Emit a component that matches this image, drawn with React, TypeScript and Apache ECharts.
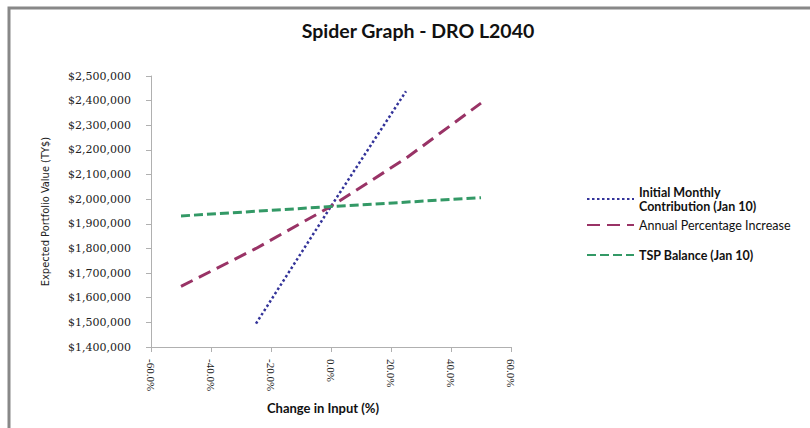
import React, { useEffect, useRef } from "react";
import * as echarts from "echarts";

const titleText = "Spider Graph - DRO L2040";
const xTickMin = -60;
const xTickMax = 60;
const xTickStep = 20;
const yMin = 1400000;
const yMax = 2500000;
const yStep = 100000;

const seriesNames = [
  "Initial Monthly\nContribution (Jan 10)",
  "Annual Percentage Increase",
  "TSP Balance (Jan 10)",
];

// Initial Monthly Contribution
const contribX = [-25, 0, 25];
const contribY = [1495000, 1971000, 2438000];

// Annual Percentage Increase
const annualX = [-50, -25, 0, 25, 50];
const annualY = [1646000, 1800000, 1971000, 2166000, 2390000];

// TSP Balance
const tspX = [-50, 0, 50];
const tspY = [1932000, 1970000, 2006000];

const colors = ["#333399", "#993366", "#339966"];

const pairs = (xs: number[], ys: number[]) => xs.map((x, i) => [x, ys[i]]);

export default function App() {
  const ref = useRef<HTMLDivElement>(null);
  useEffect(() => {
    document.body.style.margin = "0";
    const chart = echarts.init(ref.current!, null, { renderer: "svg" });
    const legendText = {
      fontFamily: "Lato",
      fontSize: 12.5,
      color: "#111",
      fontWeight: "bold" as const,
      lineHeight: 14,
    };
    const legendBase = {
      orient: "vertical" as const,
      left: 581,
      itemWidth: 47,
      itemHeight: 14,
      itemStyle: { opacity: 0 },
    };
    chart.setOption({
      animation: false,
      backgroundColor: "#ffffff",
      title: {
        text: titleText,
        left: 413,
        top: 15,
        textAlign: "center",
        textStyle: {
          fontFamily: "Lato",
          fontSize: 19.5,
          fontWeight: "bold",
          color: "#111",
        },
      },
      graphic: [
        {
          type: "rect",
          shape: { x: 9, y: 8, width: 900, height: 500 },
          style: { fill: "none", stroke: "#888888", lineWidth: 3 },
          silent: true,
        },
      ],
      grid: { left: 151, top: 76, width: 360, height: 271, containLabel: false },
      legend: [
        { ...legendBase, top: 180, data: [seriesNames[0]], textStyle: legendText },
        {
          ...legendBase,
          top: 213,
          data: [seriesNames[1]],
          textStyle: { ...legendText, fontWeight: "normal" },
        },
        { ...legendBase, top: 243, data: [seriesNames[2]], textStyle: legendText },
      ],
      xAxis: {
        type: "value",
        min: xTickMin,
        max: xTickMax,
        interval: xTickStep,
        name: "Change in Input (%)",
        nameLocation: "middle",
        nameGap: 54,
        nameTextStyle: {
          fontFamily: "Lato",
          fontSize: 13,
          fontWeight: "bold",
          color: "#111",
          padding: [0, 16, 0, 0],
        },
        splitLine: { show: false },
        axisLine: { onZero: false, lineStyle: { color: "#b0b0b0", width: 1 } },
        axisTick: { show: true, length: 5, lineStyle: { color: "#b0b0b0" } },
        axisLabel: {
          rotate: -90,
          margin: 12,
          fontFamily: "Liberation Serif",
          fontSize: 11,
          color: "#222",
          formatter: (v: number) => v.toFixed(1) + "%",
        },
      },
      yAxis: {
        type: "value",
        min: yMin,
        max: yMax,
        interval: yStep,
        name: "Expected Portfolio Value (TY$)",
        nameLocation: "middle",
        nameGap: 100,
        nameTextStyle: {
          fontFamily: "DejaVu Sans Condensed, Liberation Sans",
          fontSize: 11,
          color: "#222",
        },
        splitLine: { show: false },
        axisLine: { show: true, onZero: false, lineStyle: { color: "#b0b0b0", width: 1 } },
        axisTick: { show: true, length: 5, lineStyle: { color: "#b0b0b0" } },
        axisLabel: {
          margin: 20,
          fontFamily: "DejaVu Serif",
          fontSize: 11,
          color: "#222",
          formatter: (v: number) => "$" + v.toLocaleString("en-US"),
        },
      },
      series: [
        {
          name: seriesNames[0],
          type: "line",
          data: pairs(contribX, contribY),
          symbol: "none",
          color: colors[0],
          lineStyle: { color: colors[0], width: 2.5, type: [2.5, 2.5] },
        },
        {
          name: seriesNames[1],
          type: "line",
          data: pairs(annualX, annualY),
          symbol: "none",
          color: colors[1],
          lineStyle: { color: colors[1], width: 3, type: [13, 7] },
        },
        {
          name: seriesNames[2],
          type: "line",
          data: pairs(tspX, tspY),
          symbol: "none",
          color: colors[2],
          lineStyle: { color: colors[2], width: 3, type: [9, 4] },
        },
      ],
    });
    return () => chart.dispose();
  }, []);
  return <div ref={ref} style={{ width: 810, height: 428 }} />;
}
